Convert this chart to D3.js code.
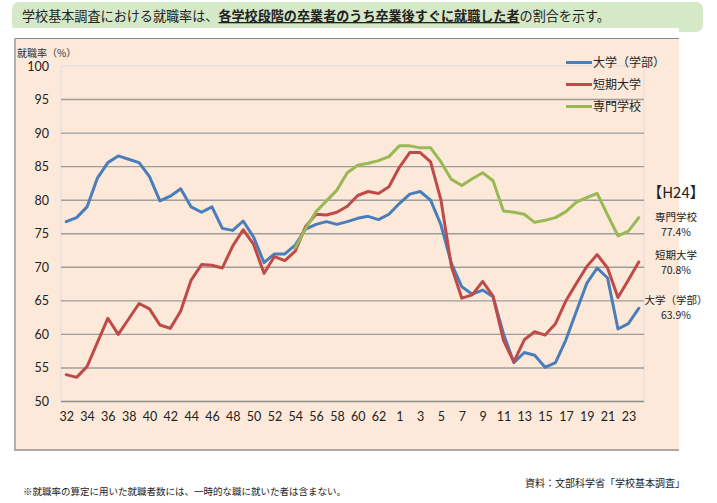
<!DOCTYPE html>
<html><head><meta charset="utf-8">
<script src="https://cdn.jsdelivr.net/npm/d3@7"></script>
<style>
body{margin:0;background:#fff;}
svg{display:block;font-family:"Noto Sans CJK JP","Noto Sans",sans-serif;}
</style></head>
<body>
<svg id="c" width="717" height="503"></svg>
<script>
// ---- data ----
const categories = ["32","33","34","35","36","37","38","39","40","41","42","43","44","45","46","47","48","49","50","51","52","53","54","55","56","57","58","59","60","61","62","63",
  "1","2","3","4","5","6","7","8","9","10","11","12","13","14","15","16","17","18","19","20","21","22","23","24"];
const seriesNames = ["大学（学部）","短期大学","専門学校"];
const univ = [76.8,77.4,79.0,83.3,85.6,86.6,86.1,85.6,83.5,79.9,80.6,81.7,79.0,78.2,79.0,75.8,75.5,76.9,74.5,70.7,72.0,72.0,73.3,75.7,
  76.4,76.8,76.4,76.8,77.3,77.6,77.1,77.9,79.5,80.9,81.3,80.0,76.3,70.6,67.1,66.0,66.6,65.6,60.1,55.8,57.3,56.9,55.1,55.8,59.2,63.4,67.6,69.9,68.4,60.8,61.6,63.9];
const junior = [54.0,53.6,55.2,58.8,62.4,60.0,62.3,64.6,63.8,61.4,60.9,63.5,68.1,70.4,70.3,69.9,73.2,75.6,73.4,69.1,71.6,71.0,72.4,76.1,
  77.9,77.8,78.2,79.1,80.7,81.3,81.0,82.0,84.9,87.1,87.1,85.7,80.0,70.1,65.4,65.9,67.9,65.7,59.1,55.9,59.2,60.4,59.9,61.6,65.0,67.6,70.1,71.9,69.9,65.5,68.1,70.8];
const senmon = [null,null,null,null,null,null,null,null,null,null,null,null,null,null,null,null,null,null,null,null,null,null,72.9,75.8,
  78.3,79.9,81.5,84.1,85.2,85.5,85.9,86.5,88.1,88.1,87.8,87.8,85.7,83.1,82.2,83.2,84.1,82.9,78.4,78.2,77.9,76.7,77.0,77.4,78.3,79.7,80.4,81.0,77.8,74.7,75.4,77.4];
const yTicks = [50,55,60,65,70,75,80,85,90,95,100];
const endLabels = ["【H24】","専門学校","77.4%","短期大学","70.8%","大学（学部）","63.9%"];

const colors = ["#4a7ebb","#be4b48","#98b954"];
const svg = d3.select("#c");

// title banner
svg.append("rect").attr("x",12).attr("y",2).attr("width",691).attr("height",30).attr("rx",7).attr("fill","#d5e8c8");
svg.append("rect").attr("x",12).attr("y",28).attr("width",667).attr("height",11).attr("fill","#fff");
const t = svg.append("text").attr("x",22).attr("y",21).attr("font-size",13.1).attr("fill","#222");
t.append("tspan").text("学校基本調査における就職率は、");
t.append("tspan").attr("font-weight","bold").attr("text-decoration","underline").text("各学校段階の卒業者のうち卒業後すぐに就職した者");
t.append("tspan").text("の割合を示す。");

// chart box
svg.append("rect").attr("x",15).attr("y",39).attr("width",664).attr("height",411).attr("fill","#fde9d9");
svg.append("line").attr("x1",15).attr("x2",679).attr("y1",38.5).attr("y2",38.5).attr("stroke","#8a8a8a").attr("stroke-width",1);
svg.append("line").attr("x1",15).attr("x2",15).attr("y1",38).attr("y2",451).attr("stroke","#b0a8a4").attr("stroke-width",1.8);
svg.append("line").attr("x1",14).attr("x2",679).attr("y1",450).attr("y2",450).attr("stroke","#b0a8a4").attr("stroke-width",1.8);

const L=61, R=644, T=66, B=401.5;
const x = d3.scalePoint().domain(categories).range([L,R]).padding(0.5);
const y = d3.scaleLinear().domain([50,100]).range([B,T]);

// plot border
svg.append("rect").attr("x",L).attr("y",T).attr("width",R-L).attr("height",B-T).attr("fill","none").attr("stroke","#dcdbe8").attr("stroke-width",1);

// gridlines
const grid = svg.append("g");
grid.selectAll("line").data(yTicks.filter(v=>v<100)).join("line")
  .attr("x1",L).attr("x2",R).attr("y1",d=>y(d)).attr("y2",d=>y(d))
  .attr("stroke",d=>d===50?"#8c8c8c":"#9d9d9d").attr("stroke-width",1.4);

// y axis labels
const yAxis = d3.axisLeft(y).tickValues(yTicks).tickSize(0).tickPadding(12);
const ga = svg.append("g").attr("transform",`translate(${L},0)`).call(yAxis);
ga.select(".domain").remove();
ga.selectAll("text").attr("font-family","Lato,'Open Sans',sans-serif").attr("font-size",12.5).attr("fill","#222");

// x axis labels
const xAxis = d3.axisBottom(x).tickValues(categories.filter((c,i)=>i%2===0)).tickSize(0).tickPadding(11);
const gx = svg.append("g").attr("transform",`translate(0,${B})`).call(xAxis);
gx.select(".domain").remove();
gx.selectAll("text").attr("font-family","Lato,'Open Sans',sans-serif").attr("font-size",12.5).attr("fill","#222");

// y title
svg.append("text").attr("x",17).attr("y",57).attr("font-size",10).attr("fill","#333").text("就職率（%）");

// lines
const line = d3.line().defined(d=>d!=null).x((d,i)=>x(categories[i])).y(d=>y(d));
[univ,junior,senmon].forEach((s,k)=>{
  svg.append("path").datum(s).attr("d",line).attr("fill","none").attr("stroke",colors[k])
    .attr("stroke-width",3).attr("stroke-linejoin","round").attr("stroke-linecap","round");
});

// legend
seriesNames.forEach((n,k)=>{
  const yy = 62.5 + k*22;
  svg.append("line").attr("x1",566).attr("x2",592).attr("y1",yy).attr("y2",yy).attr("stroke",colors[k]).attr("stroke-width",3);
  svg.append("text").attr("x",593).attr("y",yy).attr("dy","0.36em").attr("font-size",12).attr("fill","#222").text(n);
});

// end labels
const endY = [193,217,232,255,270,300,315];
endLabels.forEach((s,i)=>{
  svg.append("text").attr("x",676).attr("y",endY[i]).attr("dy","0.36em").attr("text-anchor","middle")
    .attr("font-size",i===0?15:10.5).attr("fill","#222").text(s);
});

// footer
svg.append("text").attr("x",685).attr("y",487).attr("text-anchor","end").attr("font-size",10).attr("fill","#222").text("資料：文部科学省「学校基本調査」");
svg.append("text").attr("x",23).attr("y",495).attr("font-size",9.5).attr("fill","#222").text("※就職率の算定に用いた就職者数には、一時的な職に就いた者は含まない。");
</script>
</body></html>
